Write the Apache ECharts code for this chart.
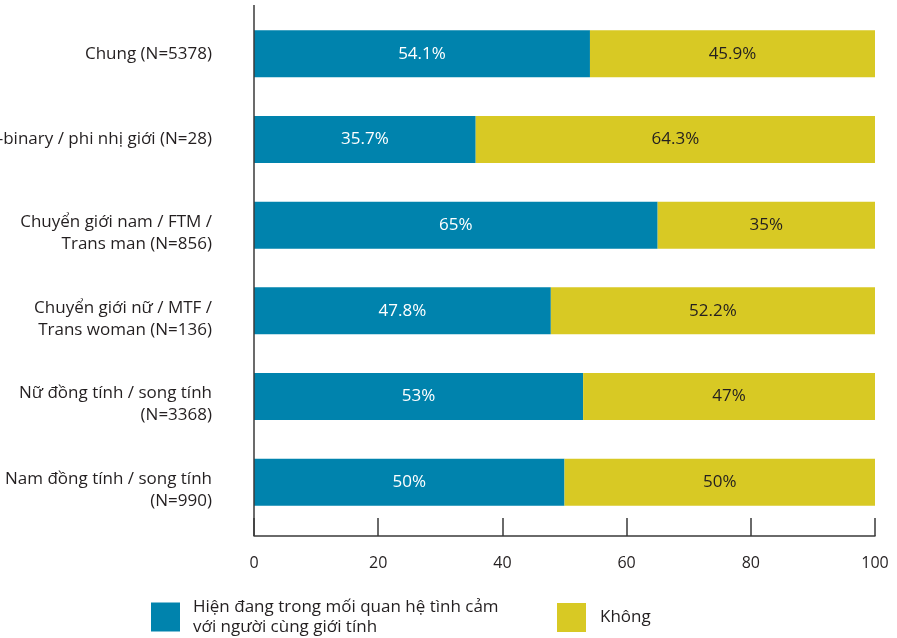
<!DOCTYPE html>
<html>
<head>
<meta charset="utf-8">
<script src="https://cdn.jsdelivr.net/npm/echarts@6/dist/echarts.min.js"></script>
<style>
  html, body { margin: 0; padding: 0; background: #fff; }
  #chart { width: 897px; height: 638px; }
</style>
</head>
<body>
<div id="chart"></div>
<script>
const categories = [
  'Chung (N=5378)',
  'Non-binary / phi nhị giới (N=28)',
  'Chuyển giới nam / FTM /\nTrans man (N=856)',
  'Chuyển giới nữ / MTF /\nTrans woman (N=136)',
  'Nữ đồng tính / song tính\n(N=3368)',
  'Nam đồng tính / song tính\n(N=990)'
]
const inRelationship = [54.1, 35.7, 65, 47.8, 53, 50]
const notInRelationship = [45.9, 64.3, 35, 52.2, 47, 50]
const xTicks = [0, 20, 40, 60, 80, 100]

const seriesNames = ['Hiện đang trong mối quan hệ tình cảm\nvới người cùng giới tính', 'Không']
const font = 'Open Sans'
const textColor = '#231f20'
const axisColor = '#3a3a3a'

// two-line category labels sit a little lower than the bar centre
function catLabel(v) {
  if (v.indexOf('\n') < 0) return '{n|' + v + '}'
  return '{s| }\n' + v.split('\n').map(l => '{n|' + l + '}').join('\n')
}

const chart = echarts.init(document.getElementById('chart'))
const option = {
  animation: false,
  textStyle: { fontFamily: font },
  grid: {
    left: 254,
    right: 22,
    top: 11,
    height: 514,
    outerBoundsMode: 'none'
  },
  legend: [
    {
      left: 146,
      top: 592,
      icon: 'rect',
      itemWidth: 29,
      itemHeight: 29,
      data: [seriesNames[0]],
      textStyle: { fontSize: 17, color: textColor, fontFamily: font, lineHeight: 20, padding: [0, 0, 0, 8] }
    },
    {
      left: 552,
      top: 598,
      icon: 'rect',
      itemWidth: 29,
      itemHeight: 29,
      data: [seriesNames[1]],
      textStyle: { fontSize: 17, color: textColor, fontFamily: font, padding: [0, 0, 0, 9] }
    }
  ],
  xAxis: {
    type: 'value',
    min: 0,
    max: 100,
    interval: 20,
    offset: 11,
    splitLine: { show: false },
    axisLine: { show: true, lineStyle: { color: axisColor, width: 1.5 } },
    axisTick: { show: true, inside: true, length: 18, lineStyle: { color: axisColor, width: 1.5 } },
    axisLabel: {
      margin: 19,
      fontSize: 16,
      color: textColor,
      fontFamily: font,
      formatter: v => (xTicks.includes(v) ? String(v) : '')
    }
  },
  yAxis: {
    type: 'category',
    inverse: true,
    data: categories,
    axisLine: { show: false },
    axisTick: { show: false },
    axisLabel: {
      margin: 42,
      color: textColor,
      fontFamily: font,
      formatter: catLabel,
      rich: {
        s: { fontSize: 10, lineHeight: 16 },
        n: { fontSize: 17, lineHeight: 22, color: textColor, fontFamily: font }
      }
    }
  },
  graphic: [
    {
      type: 'line',
      shape: { x1: 254, y1: 5, x2: 254, y2: 536 },
      style: { stroke: axisColor, lineWidth: 1.5 },
      z: 10
    }
  ],
  series: [
    {
      name: seriesNames[0],
      type: 'bar',
      stack: 'total',
      barWidth: 47,
      data: inRelationship,
      itemStyle: { color: '#0083ad' },
      label: {
        show: true,
        position: 'inside',
        formatter: '{c}%',
        fontSize: 17,
        color: '#ffffff',
        fontFamily: font
      }
    },
    {
      name: seriesNames[1],
      type: 'bar',
      stack: 'total',
      barWidth: 47,
      data: notInRelationship,
      itemStyle: { color: '#d8c924' },
      label: {
        show: true,
        position: 'inside',
        formatter: '{c}%',
        fontSize: 17,
        color: textColor,
        fontFamily: font
      }
    }
  ]
}
chart.setOption(option)
</script>
</body>
</html>
